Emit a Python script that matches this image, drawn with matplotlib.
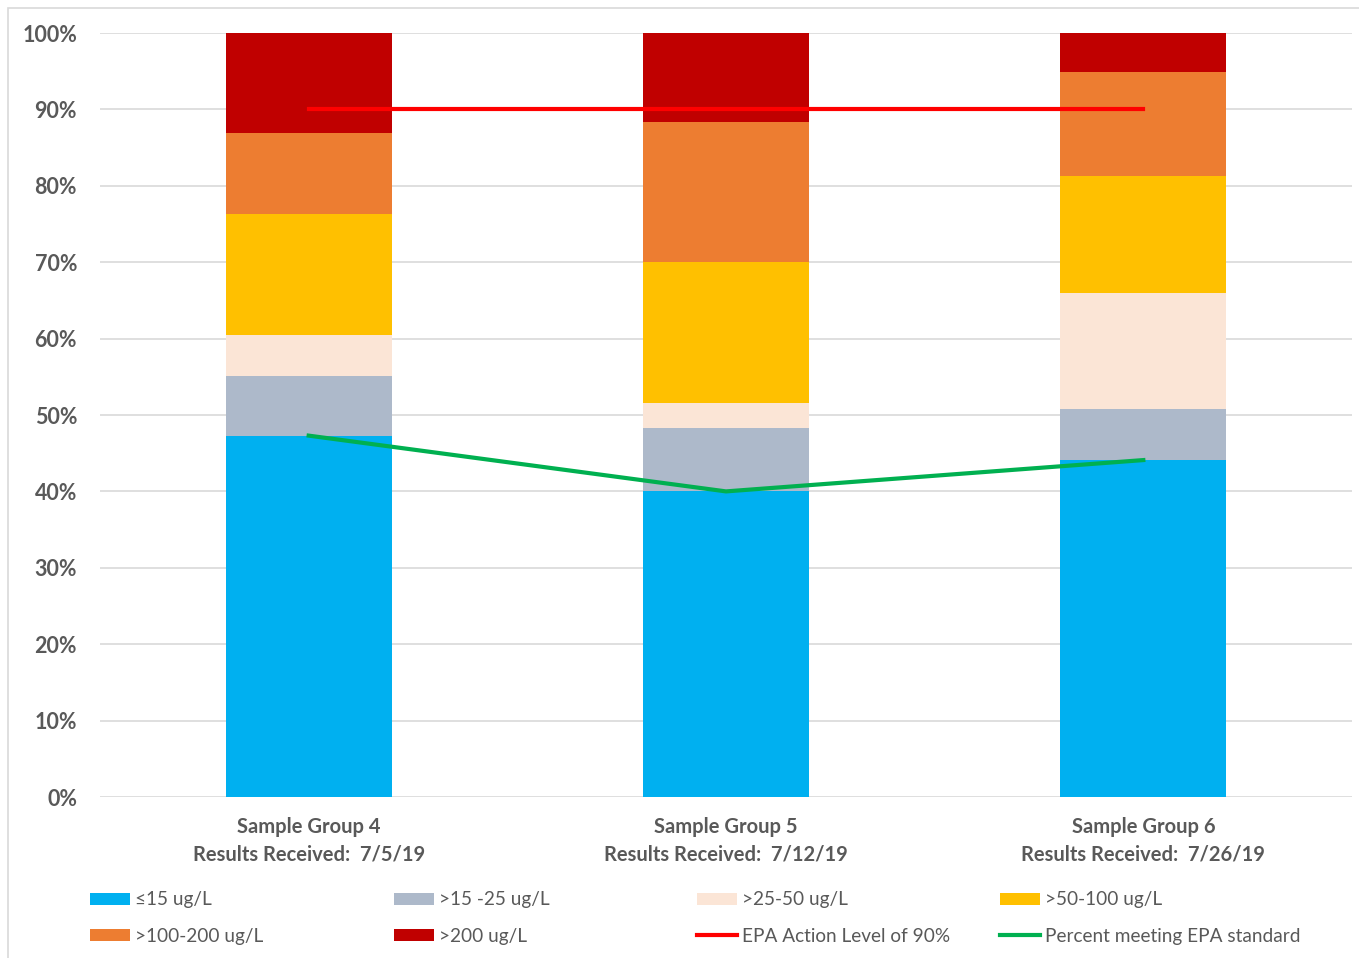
import matplotlib
matplotlib.use("Agg")
import matplotlib.pyplot as plt
from matplotlib.patches import Rectangle

plt.rcParams['font.family'] = ['Lato', 'DejaVu Sans']

categories = ["Sample Group 4\nResults Received:  7/5/19",
              "Sample Group 5\nResults Received:  7/12/19",
              "Sample Group 6\nResults Received:  7/26/19"]
series_names = ["≤15 ug/L", ">15 -25 ug/L", ">25-50 ug/L", ">50-100 ug/L",
                ">100-200 ug/L", ">200 ug/L"]
series_values = [
    [47.2, 40.0, 44.1],
    [7.9, 8.3, 6.7],
    [5.4, 3.3, 15.2],
    [15.8, 18.4, 15.3],
    [10.6, 18.4, 13.6],
    [13.1, 11.6, 5.1],
]
series_colors = ["#00B0F0", "#ADB9CA", "#FBE5D6", "#FFC000", "#ED7D31", "#C00000"]
epa_level = [90, 90, 90]
percent_meeting = [47.3, 40.0, 44.1]
yticks = [0, 10, 20, 30, 40, 50, 60, 70, 80, 90, 100]

W, H = 1359, 958
fig = plt.figure(figsize=(W/100, H/100), dpi=100)
fig.patches.append(Rectangle((8/W, -0.01), 1.1, (H-8)/H + 0.01, transform=fig.transFigure,
                             fill=False, edgecolor="#D9D9D9", linewidth=1.2))
ax = fig.add_axes([100/W, 1-797/H, (1352-100)/W, (797-33)/H])

x = list(range(len(categories)))
bottom = [0, 0, 0]
handles = {}
for name, vals, col in zip(series_names, series_values, series_colors):
    b = ax.bar(x, vals, width=0.398, bottom=bottom, color=col, label=name, zorder=2)
    handles[name] = b
    bottom = [bb + v for bb, v in zip(bottom, vals)]

l1, = ax.plot(x, epa_level, color="#FF0000", linewidth=3, label="EPA Action Level of 90%", zorder=3)
l2, = ax.plot(x, percent_meeting, color="#00B050", linewidth=3, label="Percent meeting EPA standard", zorder=3)

ax.set_xlim(-0.5, 2.5)
ax.set_ylim(0, 100)
ax.set_yticks(yticks)
ax.set_yticklabels([f"{t}%" for t in yticks])
ax.set_xticks(x)
ax.set_xticklabels(categories, linespacing=1.45)
for s in ax.spines.values():
    s.set_visible(False)
ax.grid(axis='y', color="#D9D9D9", linewidth=1.2, zorder=0)
ax.set_axisbelow(True)
ax.tick_params(axis='both', length=0, colors="#595959")
ax.tick_params(axis='y', pad=16.5, labelsize=15.5)
ax.tick_params(axis='x', pad=14.5, labelsize=14.5)
for lab in ax.get_yticklabels() + ax.get_xticklabels():
    lab.set_fontweight('bold')
    lab.set_color("#595959")

cols = [
    ([handles["≤15 ug/L"], handles[">100-200 ug/L"]], ["≤15 ug/L", ">100-200 ug/L"], 90),
    ([handles[">15 -25 ug/L"], handles[">200 ug/L"]], [">15 -25 ug/L", ">200 ug/L"], 394),
    ([handles[">25-50 ug/L"], l1], [">25-50 ug/L", "EPA Action Level of 90%"], 697),
    ([handles[">50-100 ug/L"], l2], [">50-100 ug/L", "Percent meeting EPA standard"], 1000),
]
for hs, labs, xp in cols:
    leg = fig.legend(hs, labs, loc="upper left", bbox_to_anchor=(xp/W, 1-891.5/H),
                     frameon=False, fontsize=13.7, handlelength=2.1, handleheight=0.55,
                     handletextpad=0.25, borderpad=0, borderaxespad=0, labelspacing=1.0)
    for t in leg.get_texts():
        t.set_color("#595959")

fig.savefig("out.png", dpi=100)
